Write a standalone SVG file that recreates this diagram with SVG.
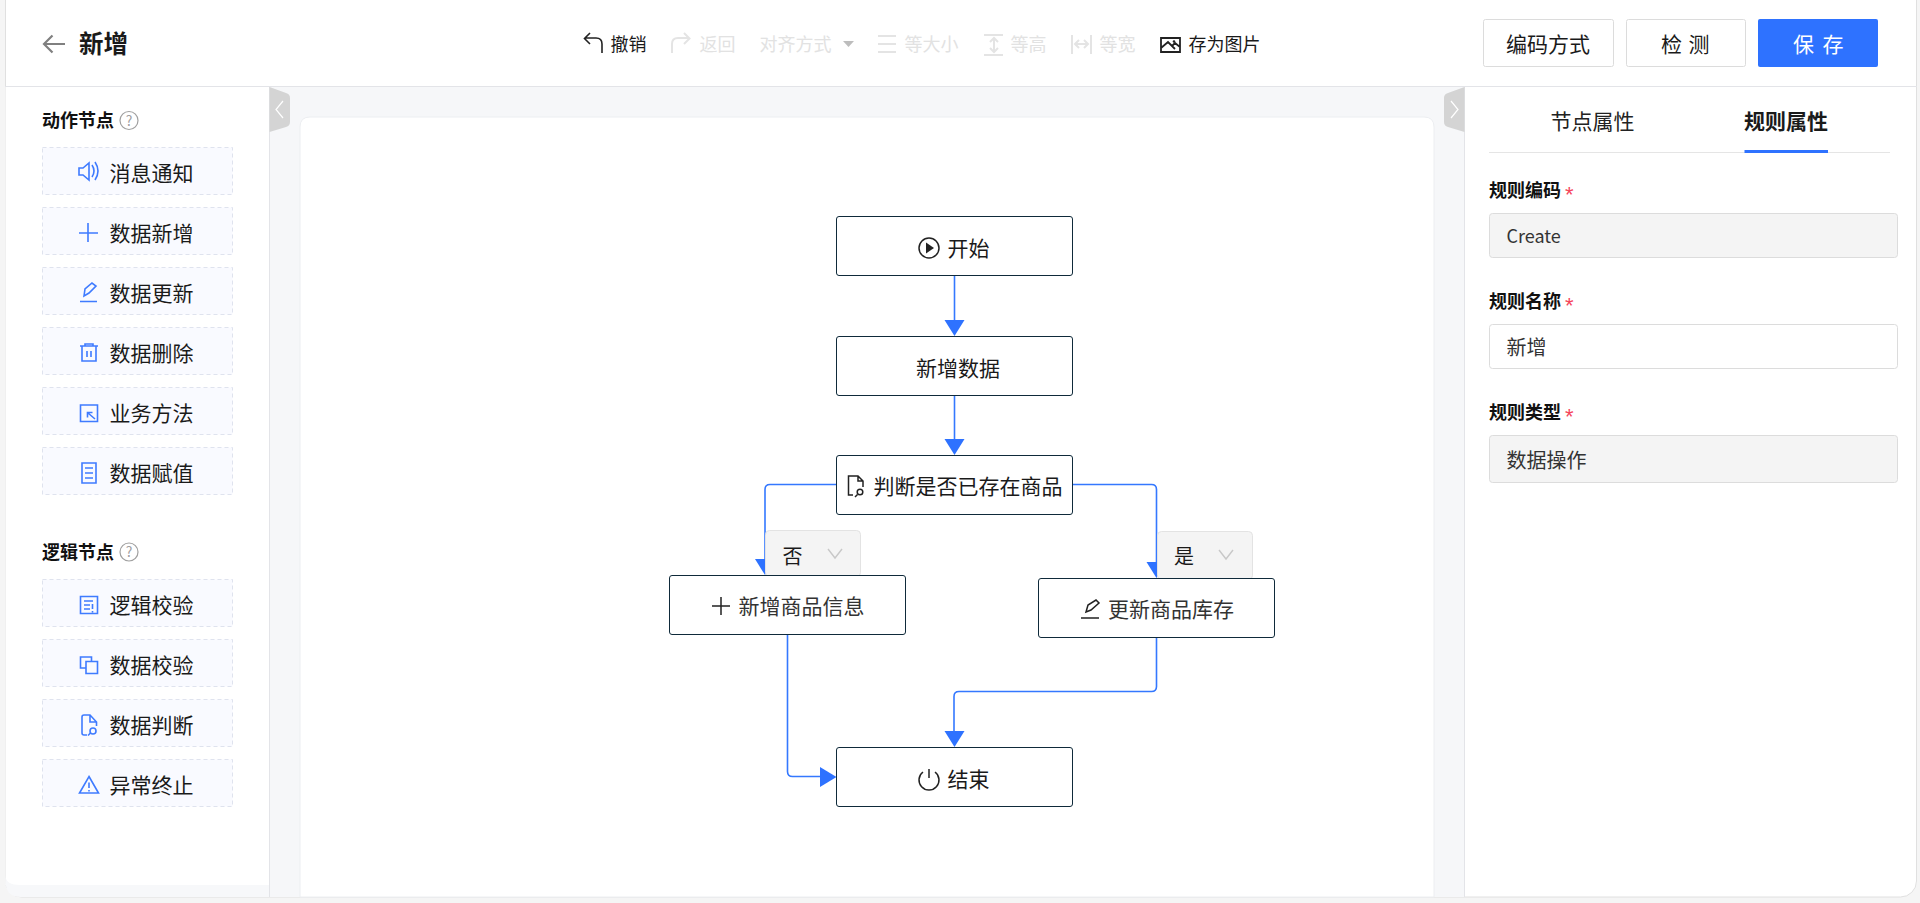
<svg xmlns="http://www.w3.org/2000/svg" width="1920" height="903" viewBox="0 0 1920 903">
<style>
text{font-family:"Noto Sans CJK SC","Liberation Sans",sans-serif;font-size:21px;fill:#1a1a1a}
.tb{font-size:18px}
.dis{font-size:18px;fill:#e2e2e2}
.b{font-weight:700}
.lbl{font-size:18px;font-weight:700;fill:#111}
.val{font-size:20px;fill:#333}
.item{fill:#f9faff;stroke:#dfe3ee;stroke-dasharray:4 3;stroke-width:1}
.ic{fill:none;stroke:#3f7bff;stroke-width:1.6}
.node{fill:#fff;stroke:#0f2a3a;stroke-width:1}
.nic{fill:none;stroke:#222;stroke-width:1.5}
.edge{fill:none;stroke:#3478ff;stroke-width:1.6}
.head{fill:#2e72ff}
.dic{fill:none;stroke:#e4e4e4;stroke-width:2}
.badge{fill:#f4f4f4;stroke:#e3e3e3}
.chev{fill:none;stroke:#c8c8c8;stroke-width:1.4}
.inp{fill:#f4f4f4;stroke:#dcdcdc}
.star{font-family:"Liberation Sans",sans-serif;fill:#f5455c;font-size:22px}
.btn{fill:#fff;stroke:#dcdcdc}
.help{fill:none;stroke:#a0a0a0;stroke-width:1.2}
.q{font-size:14px;fill:#a0a0a0}
</style>
<rect width="1920" height="903" fill="#f5f5f5"/>
<rect x="5.5" y="-20" width="1911" height="917" rx="16" fill="#fff" stroke="#e0e0e0"/>
<path d="M270 87H1465V897H270Z" fill="#f6f7f9"/>
<path d="M5.5 87H269V885H5.5Z" fill="#fff"/>
<path d="M5.5 876V881Q5.5 897 21 897H270V885H20Q6 885 5.500 876Z" fill="#f7f8fa"/>
<path d="M5 86.500H1917" stroke="#e3e4e8" stroke-width="1"/>
<path d="M269.500 87V897M1464.500 87V897" stroke="#e3e4e8"/>
<path d="M300 897V127Q300 117 310 117H1424Q1434 117 1434 127V897Z" fill="#fff" stroke="#eceef1"/>

<g id="header">
<path d="M65 44H44M52.500 35.500L44 44L52.500 52.500" fill="none" stroke="#808080" stroke-width="2.200"/>
<text x="79" y="53" class="b" style="font-size:24.500px">新增</text>
</g>
<g id="toolbar">
<path d="M602 53V44Q602 38 596 38H585M590 33L584.500 38.500L590 44" fill="none" stroke="#222" stroke-width="1.600"/>
<text x="610.500" y="51" class="tb">撤销</text>
<path d="M672 53V44Q672 38 678 38H689M684 33L689.500 38.500L684 44" class="dic"/>
<text x="699.500" y="51" class="dis">返回</text>
<text x="759.500" y="51" class="dis">对齐方式</text>
<path d="M843 41H854L848.500 47Z" fill="#bdbdbd"/>
<path d="M878 36H896M878 44H896M878 52H896" class="dic"/>
<text x="904.500" y="51" class="dis">等大小</text>
<path d="M984 35H1003M984 55H1003M994 38V52M990 42L994 38L998 42M990 48L994 52L998 48" class="dic"/>
<text x="1010.500" y="51" class="dis">等高</text>
<path d="M1072 35V54M1091 35V54M1075 44H1088M1079 40L1075 44L1079 48M1084 40L1088 44L1084 48" class="dic"/>
<text x="1099.500" y="51" class="dis">等宽</text>
<path d="M1161 38H1180V52H1161ZM1161 48L1168 42L1175 49M1172 46L1175 43L1180 47" fill="none" stroke="#222" stroke-width="1.800"/>
<circle cx="1174" cy="41.500" r="1.300" fill="#222"/>
<text x="1188.500" y="51" class="tb">存为图片</text>
</g>
<g id="btn-encode"><rect x="1483.500" y="19.500" width="130" height="47" rx="2" class="btn"/><text x="1506" y="52">编码方式</text></g>
<g id="btn-check"><rect x="1626.500" y="19.500" width="119" height="47" rx="2" class="btn"/><text x="1661 1688.500" y="52">检测</text></g>
<g id="btn-save"><rect x="1758" y="19" width="120" height="48" rx="2" fill="#2e72ff"/><text x="1793 1822.500" y="52" style="fill:#fff">保存</text></g>

<g id="panel-collapse">
<path d="M269.500 87L286 93Q290 94 290 98V122Q290 126 286 127L269.500 132Z" fill="#d4d4d4"/>
<path d="M283 101L276 109.500L283 118" fill="none" stroke="#fff" stroke-width="1.200"/>
<path d="M1464.500 87L1448 93Q1444 94 1444 98V122Q1444 126 1448 127L1464.500 132Z" fill="#d4d4d4"/>
<path d="M1451 101L1458 109.500L1451 118" fill="none" stroke="#fff" stroke-width="1.200"/>
</g>

<g id="group-action"><text x="42" y="127" class="lbl">动作节点</text>
<circle cx="129" cy="120.500" r="9" class="help"/><text x="129" y="125.500" text-anchor="middle" class="q">?</text></g>
<g id="group-logic"><text x="42" y="559" class="lbl">逻辑节点</text>
<circle cx="129" cy="552" r="9" class="help"/><text x="129" y="557" text-anchor="middle" class="q">?</text></g>

<g id="item-notify"><rect x="42.500" y="147.500" width="190" height="47" class="item"/>
<path d="M79 168H83L89 163V180L83 175H79ZM92 165Q96 171 92 177M95 162Q101 171 95 180" class="ic"/><text x="109.500" y="181">消息通知</text></g>
<g id="item-add"><rect x="42.500" y="207.500" width="190" height="47" class="item"/>
<path d="M88 223V242M79 233H98" class="ic"/><text x="109.500" y="241">数据新增</text></g>
<g id="item-update"><rect x="42.500" y="267.500" width="190" height="47" class="item"/>
<path d="M84 296L85 289L92 283L96 286L89 293ZM80 301.500H97" class="ic"/><text x="109.500" y="301">数据更新</text></g>
<g id="item-delete"><rect x="42.500" y="327.500" width="190" height="47" class="item"/>
<path d="M80 346H98M85 346V344H93V346M82 346V361H96V346M87 351V357M91 351V357" class="ic"/><text x="109.500" y="361">数据删除</text></g>
<g id="item-method"><rect x="42.500" y="387.500" width="190" height="47" class="item"/>
<path d="M80.500 405H97.500V421.500H80.500ZM95 419L88 413M87.500 417.500V412.500H92.500" class="ic"/><text x="109.500" y="421">业务方法</text></g>
<g id="item-assign"><rect x="42.500" y="447.500" width="190" height="47" class="item"/>
<path d="M82 463H96V483H82ZM85 468H93M85 473H93M85 478H93" class="ic"/><text x="109.500" y="481">数据赋值</text></g>

<g id="item-logic-check"><rect x="42.500" y="579.500" width="190" height="47" class="item"/>
<path d="M80.500 596.500H97.500V613.500H80.500ZM84 601H93M84 605H90M84 609H90M92.500 604V609M92.500 611V612.500" class="ic"/><text x="109.500" y="613">逻辑校验</text></g>
<g id="item-data-check"><rect x="42.500" y="639.500" width="190" height="47" class="item"/>
<path d="M85.500 668H80.500V657H91.500V661.500M86 661.500H97.500V673.500H86Z" class="ic"/><text x="109.500" y="673">数据校验</text></g>
<g id="item-judge"><rect x="42.500" y="699.500" width="190" height="47" class="item"/>
<path d="M87 735H84Q82 735 82 733V717Q82 715 84 715H90L96.500 722V726M90 715V722H96.500M90.500 733L88 735.500" class="ic"/><circle cx="93" cy="731" r="3" class="ic"/><text x="109.500" y="733">数据判断</text></g>
<g id="item-abort"><rect x="42.500" y="759.500" width="190" height="47" class="item"/>
<path d="M89 776.500L98.500 793H79.500ZM89 782.500V788M89 790V791.500" class="ic"/><text x="109.500" y="793">异常终止</text></g>

<g id="connectors">
<path d="M954.500 275.500V322" class="edge"/><path d="M944.500 320H964.500L954.500 336Z" class="head"/>
<path d="M954.500 395.500V441" class="edge"/><path d="M944.500 439H964.500L954.500 455Z" class="head"/>
<path d="M836 484.500H770Q765 484.500 765 489.500V561" class="edge"/><path d="M755 559H775L765 575Z" class="head"/>
<path d="M1072.500 484.500H1151.500Q1156.500 484.500 1156.500 489.500V564" class="edge"/><path d="M1146.500 562H1166.500L1156.500 578Z" class="head"/>
<path d="M787.500 634.500V771.500Q787.500 776.500 792.500 776.500H822" class="edge"/><path d="M820 767V787L836.500 777Z" class="head"/>
<path d="M1156.500 637.500V686.500Q1156.500 691.500 1151.500 691.500H959Q954 691.500 954 696.500V733" class="edge"/><path d="M944.500 731H964.500L954.500 747Z" class="head"/>
</g>

<g id="label-no"><rect x="765.500" y="530.500" width="95" height="46" rx="4" class="badge"/><text x="782.500" y="564" style="font-size:20px">否</text><path d="M828 549L835 558L842 549" class="chev"/></g>
<g id="label-yes"><rect x="1157.500" y="531.500" width="95" height="48" rx="4" class="badge"/><text x="1174" y="564" style="font-size:20px">是</text><path d="M1219 550L1226 559L1233 550" class="chev"/></g>

<g id="node-start"><rect x="836.500" y="216.500" width="236" height="59" rx="2.500" class="node"/>
<circle cx="929" cy="248" r="10" class="nic"/><path d="M926 242.500V253.500L934 248Z" fill="#222"/><text x="947.500" y="256">开始</text></g>
<g id="node-new"><rect x="836.500" y="336.500" width="236" height="59" rx="2.500" class="node"/><text x="916" y="375.500">新增数据</text></g>
<g id="node-judge"><rect x="836.500" y="455.500" width="236" height="59" rx="2.500" class="node"/>
<path d="M853 495H848.500V476H858L863 481V487M858 476V481H863M857.500 494.500L855 497" class="nic"/><circle cx="860" cy="492" r="2.800" class="nic"/><text x="873.500" y="494">判断是否已存在商品</text></g>
<g id="node-add"><rect x="669.500" y="575.500" width="236" height="59" rx="2.500" class="node"/>
<path d="M721 597V615M712 606H730" class="nic"/><text x="738.500" y="614" style="fill:#333">新增商品信息</text></g>
<g id="node-update"><rect x="1038.500" y="578.500" width="236" height="59" rx="2.500" class="node"/>
<path d="M1086 612L1088 605L1096 600L1099 603L1091 610ZM1081 618H1099" class="nic"/><text x="1108" y="616.500" style="fill:#333">更新商品库存</text></g>
<g id="node-end"><rect x="836.500" y="747.500" width="236" height="59" rx="2.500" class="node"/>
<path d="M923 772A10 10 0 1 0 935 772M929 769V778" class="nic"/><text x="947.500" y="786.500">结束</text></g>

<g id="props">
<text x="1550.500" y="128.500" style="fill:#222">节点属性</text>
<text x="1744" y="128.500" class="b">规则属性</text>
<path d="M1489 152.500H1890" stroke="#e5e5e5"/>
<path d="M1744.500 151.500H1828" stroke="#2e72ff" stroke-width="3"/>
<text x="1489" y="197" class="lbl">规则编码</text><text x="1565" y="202" class="star">*</text>
<rect x="1489.500" y="213.500" width="408" height="44" rx="3" class="inp"/>
<text x="1506.500" y="242.500" style="font-size:18px;fill:#333">Create</text>
<text x="1489" y="308" class="lbl">规则名称</text><text x="1565" y="313" class="star">*</text>
<rect x="1489.500" y="324.500" width="408" height="44" rx="3" fill="#fff" stroke="#dcdcdc"/>
<text x="1506.500" y="354.500" class="val">新增</text>
<text x="1489" y="419" class="lbl">规则类型</text><text x="1565" y="424" class="star">*</text>
<rect x="1489.500" y="435.500" width="408" height="47" rx="3" class="inp"/>
<text x="1506.500" y="468" class="val">数据操作</text>
</g>
</svg>
